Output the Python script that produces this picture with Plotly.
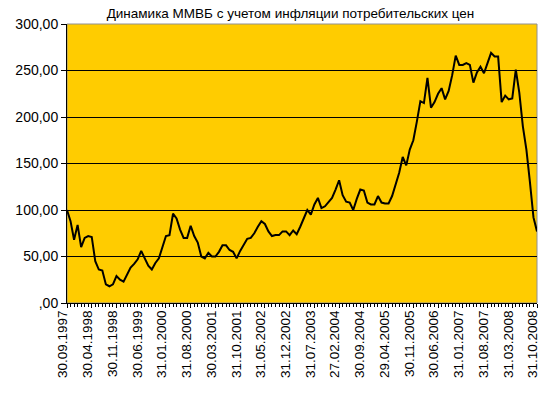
import plotly.graph_objects as go

# Monthly values (real MICEX index, 30.09.1997 = 100), Sep 1997 .. Oct 2008
values = [
    100, 88, 68, 84, 60, 70, 72, 71, 45, 36,
    35, 20, 18, 20, 29, 25, 23, 30, 38, 42,
    47, 56, 48, 40, 36, 43, 48, 60, 72, 73,
    96, 91, 79, 70, 70, 83, 72, 65, 50, 48,
    54, 50, 50, 55, 62, 62, 57, 55, 48, 56,
    63, 69, 70, 75, 82, 88, 85, 77, 72, 73,
    73, 77, 77, 73, 78, 74, 82, 92, 100, 95,
    106, 113, 102, 104, 108, 113, 122, 132, 116, 109,
    108, 100, 112, 122, 121, 108, 106, 106, 115, 108,
    107, 107, 115, 127, 140, 157, 148, 165, 175, 195,
    217, 215, 242, 210, 216, 225, 231, 219, 228, 245,
    266, 256, 256, 258, 256, 237, 248, 254, 247, 258,
    269, 265, 265, 216, 223, 219, 220, 251, 226, 190,
    165, 130, 92, 77,
]

tick_labels = [
    "30.09.1997", "30.04.1998", "30.11.1998", "30.06.1999", "31.01.2000",
    "31.08.2000", "30.03.2001", "31.10.2001", "31.05.2002", "31.12.2002",
    "31.07.2003", "27.02.2004", "30.09.2004", "29.04.2005", "30.11.2005",
    "30.06.2006", "31.01.2007", "31.08.2007", "31.03.2008", "31.10.2008",
]
tick_step = 7

y_tick_vals = [0, 50, 100, 150, 200, 250, 300]
y_tick_text = [",00", "50,00", "100,00", "150,00", "200,00", "250,00", "300,00"]

title_text = "Динамика ММВБ с учетом инфляции потребительских цен"

x = list(range(len(values)))

fig = go.Figure()
fig.add_trace(go.Scatter(
    x=x, y=values, mode="lines",
    line=dict(color="black", width=2),
    showlegend=False, cliponaxis=False,
))

font_family = "Liberation Sans, Arial, sans-serif"

fig.update_layout(
    width=543, height=397,
    margin=dict(l=67, r=6, t=24, b=94, autoexpand=False),
    paper_bgcolor="white",
    plot_bgcolor="#FFCC00",
    font=dict(family=font_family, size=14, color="black"),
    title=dict(text=title_text, x=0.535, xanchor="center", y=0.978, yanchor="top",
               font=dict(family=font_family, size=13.5, color="black")),
)

fig.update_xaxes(
    range=[0, len(values) - 1],
    automargin=False,
    tickmode="array",
    tickvals=[i * tick_step for i in range(len(tick_labels))],
    ticktext=tick_labels,
    tickangle=-90,
    ticklabeloverflow="allow",
    ticklabelshift=-4,
    ticklabelstandoff=-3,
    ticks="outside", ticklen=4, tickcolor="black",
    minor=dict(ticks="outside", dtick=1, tick0=0, ticklen=3, tickcolor="black", showgrid=False),
    showline=True, linecolor="black", linewidth=1,
    showgrid=False, zeroline=False,
    tickfont=dict(size=13.5),
)

fig.update_yaxes(
    range=[0, 300],
    automargin=False,
    tickmode="array",
    tickvals=y_tick_vals,
    ticktext=y_tick_text,
    ticks="outside", ticklen=5, tickcolor="black",
    showline=True, linecolor="black", linewidth=1,
    showgrid=True, gridcolor="black", gridwidth=1,
    zeroline=False,
    tickfont=dict(size=14),
)

# light grey frame of plot area (top/right)
fig.add_shape(type="rect", xref="paper", yref="paper", x0=0, y0=0, x1=1, y1=1,
              line=dict(color="#909090", width=1), layer="below")

fig.write_html(
    "out.html",
    config={"displayModeBar": False},
    post_script="document.body.style.margin='0';document.body.style.overflow='hidden';",
)
